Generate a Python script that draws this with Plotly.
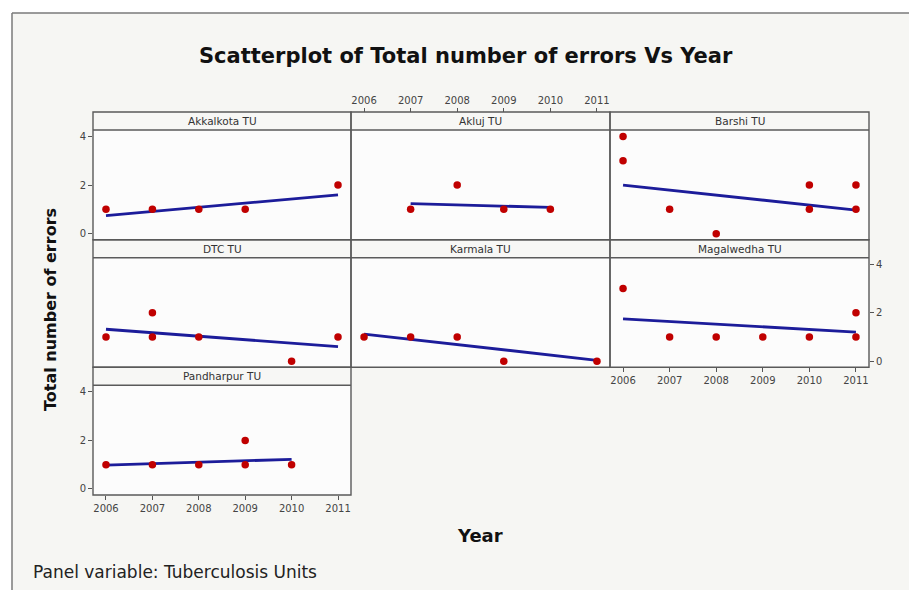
import plotly.graph_objects as go

W, H = 909, 590

# ---------------- data ----------------
panel_names = ["Akkalkota TU", "Akluj TU", "Barshi TU", "DTC TU",
               "Karmala TU", "Magalwedha TU", "Pandharpur TU"]

akkalkota_years = [2006, 2007, 2008, 2009, 2011]
akkalkota_errors = [1, 1, 1, 1, 2]
akluj_years = [2007, 2008, 2009, 2010]
akluj_errors = [1, 2, 1, 1]
barshi_years = [2006, 2006, 2007, 2008, 2010, 2010, 2011, 2011]
barshi_errors = [4, 3, 1, 0, 2, 1, 2, 1]
dtc_years = [2006, 2007, 2007, 2008, 2010, 2011]
dtc_errors = [1, 2, 1, 1, 0, 1]
karmala_years = [2006, 2007, 2008, 2009, 2011]
karmala_errors = [1, 1, 1, 0, 0]
magalwedha_years = [2006, 2007, 2008, 2009, 2010, 2011, 2011]
magalwedha_errors = [3, 1, 1, 1, 1, 2, 1]
pandharpur_years = [2006, 2007, 2008, 2009, 2009, 2010]
pandharpur_errors = [1, 1, 1, 2, 1, 1]

# fitted regression lines (end points)
akkalkota_fit_x, akkalkota_fit_y = [2006, 2011], [0.74, 1.60]
akluj_fit_x, akluj_fit_y = [2007, 2010], [1.24, 1.08]
barshi_fit_x, barshi_fit_y = [2006, 2011], [2.00, 0.97]
dtc_fit_x, dtc_fit_y = [2006, 2011], [1.32, 0.60]
karmala_fit_x, karmala_fit_y = [2006, 2011], [1.12, 0.04]
magalwedha_fit_x, magalwedha_fit_y = [2006, 2011], [1.75, 1.20]
pandharpur_fit_x, pandharpur_fit_y = [2006, 2010], [0.98, 1.22]

year_ticks = [2006, 2007, 2008, 2009, 2010, 2011]
error_ticks = [0, 2, 4]

points = [
    (akkalkota_years, akkalkota_errors, akkalkota_fit_x, akkalkota_fit_y),
    (akluj_years, akluj_errors, akluj_fit_x, akluj_fit_y),
    (barshi_years, barshi_errors, barshi_fit_x, barshi_fit_y),
    (dtc_years, dtc_errors, dtc_fit_x, dtc_fit_y),
    (karmala_years, karmala_errors, karmala_fit_x, karmala_fit_y),
    (magalwedha_years, magalwedha_errors, magalwedha_fit_x, magalwedha_fit_y),
    (pandharpur_years, pandharpur_errors, pandharpur_fit_x, pandharpur_fit_y),
]

# ---------------- layout geometry (pixels) ----------------
col_x = [(93, 351), (351, 610), (610, 869)]
row_hdr_top = [112, 239.7, 367.3]
hdr_h = 18
row_bottom = [239.7, 367.3, 495]
grid_pos = [(0, 0), (0, 1), (0, 2), (1, 0), (1, 1), (1, 2), (2, 0)]

XR = [2005.72, 2011.28]
YR = [-0.25, 4.27]

FONT = "DejaVu Sans"
TICKC = "#555555"
FRAME = "#5a5a5a"

def px(x):
    return x / W

def py(y):
    return 1 - y / H

fig = go.Figure()
layout = dict()
shapes = []
annotations = []

for i, ((r, c), name, (xs, ys, fx, fy)) in enumerate(zip(grid_pos, panel_names, points), start=1):
    x0, x1 = col_x[c]
    ht = row_hdr_top[r]
    pt = ht + hdr_h
    pb = row_bottom[r]
    xa = "x" if i == 1 else f"x{i}"
    ya = "y" if i == 1 else f"y{i}"

    fig.add_trace(go.Scatter(x=fx, y=fy, mode="lines", xaxis=xa, yaxis=ya,
                             line=dict(color="#1c1c9a", width=2.8),
                             showlegend=False, hoverinfo="skip"))
    fig.add_trace(go.Scatter(x=xs, y=ys, mode="markers", xaxis=xa, yaxis=ya,
                             marker=dict(color="#c00000", size=7.5,
                                         line=dict(width=0)),
                             cliponaxis=False, showlegend=False))

    xaxis = dict(domain=[px(x0), px(x1)], range=XR, anchor=ya,
                 showgrid=False, zeroline=False, showline=False,
                 tickvals=year_ticks, ticktext=[str(v) for v in year_ticks],
                 tickfont=dict(family=FONT, size=10, color="#444444"),
                 ticks="", showticklabels=False, fixedrange=True)
    yaxis = dict(domain=[py(pb), py(pt)], range=YR, anchor=xa,
                 showgrid=False, zeroline=False, showline=False,
                 tickvals=error_ticks,
                 tickfont=dict(family=FONT, size=10, color="#444444"),
                 ticks="", showticklabels=False, fixedrange=True)

    if name in ("Magalwedha TU", "Pandharpur TU"):
        xaxis.update(ticks="outside", ticklen=4, tickcolor=TICKC,
                     showticklabels=True, side="bottom")
    if name == "Akluj TU":
        xaxis.update(ticks="outside", ticklen=4, tickcolor=TICKC,
                     showticklabels=True, side="top",
                     anchor="free", position=py(ht))
    if name in ("Akkalkota TU", "Pandharpur TU"):
        yaxis.update(ticks="outside", ticklen=4, tickcolor=TICKC,
                     showticklabels=True, side="left")
    if name == "Magalwedha TU":
        yaxis.update(ticks="outside", ticklen=4, tickcolor=TICKC,
                     showticklabels=True, side="right")

    layout["xaxis" if i == 1 else f"xaxis{i}"] = xaxis
    layout["yaxis" if i == 1 else f"yaxis{i}"] = yaxis

    # header strip
    shapes.append(dict(type="rect", xref="paper", yref="paper",
                       x0=px(x0), x1=px(x1), y0=py(pt), y1=py(ht),
                       fillcolor="#f7f7f5", line=dict(width=0), layer="below"))
    # panel frame
    shapes.append(dict(type="rect", xref="paper", yref="paper",
                       x0=px(x0), x1=px(x1), y0=py(pb), y1=py(ht),
                       line=dict(color=FRAME, width=1.4), layer="above"))
    shapes.append(dict(type="line", xref="paper", yref="paper",
                       x0=px(x0), x1=px(x1), y0=py(pt), y1=py(pt),
                       line=dict(color=FRAME, width=1.4), layer="above"))
    annotations.append(dict(text=name, xref="paper", yref="paper",
                            x=px((x0 + x1) / 2), y=py(ht + hdr_h / 2),
                            xanchor="center", yanchor="middle", showarrow=False,
                            font=dict(family=FONT, size=10.5, color="#333333")))

# outer frame of the graph window
shapes.append(dict(type="rect", xref="paper", yref="paper",
                   x0=0, x1=1, y0=py(13), y1=1, fillcolor="#ffffff",
                   line=dict(width=0), layer="below"))
shapes.append(dict(type="rect", xref="paper", yref="paper",
                   x0=0, x1=px(12), y0=0, y1=1, fillcolor="#ffffff",
                   line=dict(width=0), layer="below"))
shapes.append(dict(type="line", xref="paper", yref="paper",
                   x0=px(12), x1=1, y0=py(13), y1=py(13),
                   line=dict(color="#7a7a7a", width=1.5)))
shapes.append(dict(type="line", xref="paper", yref="paper",
                   x0=px(12), x1=px(12), y0=0, y1=py(13),
                   line=dict(color="#7a7a7a", width=1.5)))

annotations += [
    dict(text="<b>Scatterplot of Total number of errors Vs Year</b>",
         xref="paper", yref="paper", x=px(466), y=py(56),
         xanchor="center", yanchor="middle", showarrow=False,
         font=dict(family=FONT, size=21, color="#111111")),
    dict(text="<b>Total number of errors</b>", textangle=-90,
         xref="paper", yref="paper", x=px(50), y=py(310),
         xanchor="center", yanchor="middle", showarrow=False,
         font=dict(family=FONT, size=16, color="#111111")),
    dict(text="<b>Year</b>", xref="paper", yref="paper", x=px(480), y=py(535),
         xanchor="center", yanchor="middle", showarrow=False,
         font=dict(family=FONT, size=18, color="#111111")),
    dict(text="Panel variable: Tuberculosis Units", xref="paper", yref="paper",
         x=px(31), y=py(572), xanchor="left", yanchor="middle", showarrow=False,
         font=dict(family=FONT, size=17, color="#222222")),
]

fig.update_layout(**layout)
fig.update_layout(width=W, height=H, margin=dict(l=0, r=0, t=0, b=0),
                  paper_bgcolor="#f6f6f3", plot_bgcolor="#fcfcfc",
                  shapes=shapes, annotations=annotations, showlegend=False)

fig.write_html("out.html", config={"displayModeBar": False})
